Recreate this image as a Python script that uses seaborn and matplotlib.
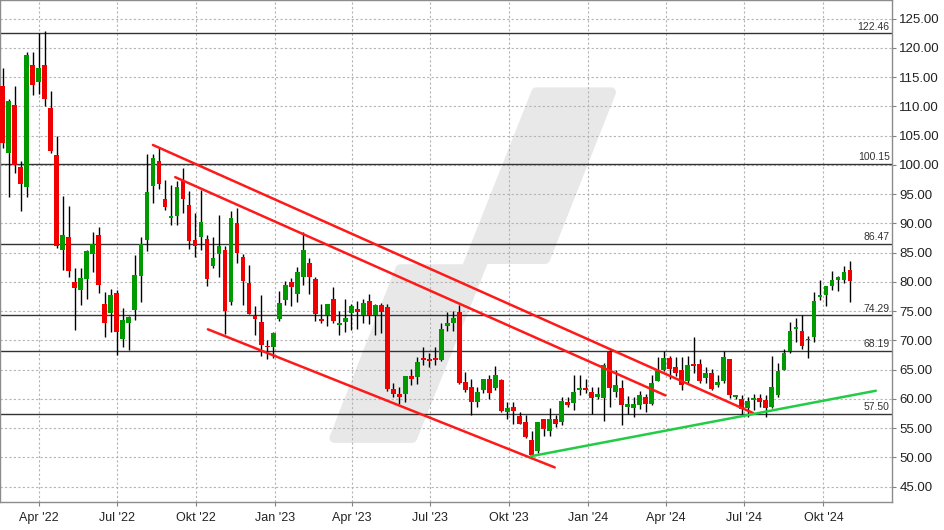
import numpy as np
import pandas as pd
import matplotlib
matplotlib.use('Agg')
import matplotlib.pyplot as plt
import matplotlib.dates as mdates
from matplotlib.patches import Polygon
import seaborn as sns

# Wochenkerzen (Freitag), Feb 2022 - Nov 2024
first_week = '2022-02-18'
opens = [113.5, 102.1, 110.3, 99.6, 96.2, 117.1, 114.1, 117.1, 109.8, 101.7,
         85.5, 87.6, 80.0, 78.6, 80.5, 84.8, 88.0, 76.2, 74.7, 78.1,
         70.3, 72.9, 75.2, 81.0, 87.2, 96.4, 100.7, 94.1, 90.9, 91.3,
         97.3, 93.1, 87.1, 87.7, 87.3, 82.7, 84.8, 85.5, 76.5, 90.1,
         84.3, 79.8, 74.1, 73.2, 69.1, 68.8, 73.7, 76.9, 80.0, 77.9,
         80.9, 83.3, 80.5, 73.7, 74.3, 77.0, 72.7, 73.1, 74.7, 75.4,
         74.4, 76.8, 74.4, 76.0, 75.7, 61.7, 60.9, 60.9, 64.0, 63.7,
         67.0, 66.8, 67.0, 66.7, 72.5, 73.0, 74.8, 62.9, 62.1, 59.4,
         61.6, 63.4, 61.8, 63.3, 57.7, 58.7, 57.1, 56.1, 52.9, 51.1,
         56.6, 54.5, 56.5, 56.0, 59.4, 59.3, 61.5, 61.9, 61.2, 60.4,
         60.1, 68.1, 61.2, 61.9, 58.6, 58.5, 58.9, 60.4, 59.1, 63.1,
         64.9, 67.0, 65.4, 65.0, 63.0, 66.0, 66.0, 63.5, 64.4, 62.3,
         63.0, 66.9, 60.3, 60.0, 58.4, 59.8, 60.2, 59.9, 58.6, 60.7,
         65.0, 68.2, 72.0, 71.6, 70.3, 70.5, 77.4, 77.8, 79.3, 80.4,
         80.4, 82.0]
highs = [116.5, 111.2, 113.5, 100.7, 119.3, 119.3, 122.6, 122.9, 112.6, 104.9,
         94.6, 92.9, 82.3, 82.3, 85.4, 88.6, 89.3, 78.2, 78.8, 78.6,
         75.5, 74.2, 84.6, 87.6, 101.9, 101.9, 103.0, 97.5, 96.5, 97.3,
         99.4, 95.6, 91.8, 95.7, 88.0, 87.7, 91.4, 86.2, 92.1, 92.7,
         84.8, 82.9, 75.8, 77.8, 70.1, 71.4, 78.5, 80.2, 80.6, 82.6,
         88.5, 84.0, 80.8, 76.3, 76.3, 79.2, 75.1, 77.1, 76.3, 76.8,
         77.1, 78.0, 76.3, 76.4, 76.3, 62.8, 62.0, 64.0, 65.2, 67.2,
         68.9, 67.8, 68.8, 72.9, 74.9, 75.1, 76.0, 64.6, 63.4, 62.0,
         63.4, 64.1, 65.6, 63.4, 59.5, 59.5, 57.7, 57.3, 54.5, 56.1,
         56.6, 58.5, 57.2, 60.3, 60.3, 64.1, 64.1, 63.4, 62.1, 62.0,
         66.2, 68.3, 64.9, 63.3, 60.5, 60.3, 61.4, 60.8, 64.1, 67.2,
         68.2, 67.3, 67.1, 67.1, 67.4, 70.6, 66.8, 65.4, 65.1, 64.1,
         68.2, 66.9, 60.7, 60.6, 60.4, 60.9, 60.9, 60.6, 67.3, 66.2,
         68.5, 73.1, 73.8, 74.3, 70.7, 78.2, 80.4, 79.3, 81.9, 81.0,
         82.7, 83.6]
lows = [102.8, 94.5, 98.6, 92.1, 94.5, 112.0, 112.1, 110.0, 102.0, 85.8,
        82.1, 80.9, 71.8, 76.1, 77.1, 81.7, 78.1, 70.5, 71.4, 67.5,
        68.8, 68.4, 73.5, 76.6, 85.3, 93.5, 95.8, 92.3, 89.7, 89.7,
        91.8, 85.7, 84.2, 85.5, 79.3, 82.3, 80.9, 71.1, 76.0, 83.3,
        76.0, 74.6, 70.9, 67.3, 66.9, 67.0, 73.4, 76.0, 75.8, 76.5,
        79.4, 77.9, 73.4, 72.9, 72.4, 73.0, 70.9, 71.4, 71.7, 72.0,
        73.0, 72.8, 70.9, 71.2, 61.3, 60.3, 59.1, 59.4, 62.3, 62.5,
        65.8, 65.4, 65.8, 66.5, 71.6, 71.6, 62.5, 61.2, 57.3, 58.6,
        61.0, 60.0, 61.6, 57.8, 56.5, 55.8, 55.8, 53.4, 50.1, 50.7,
        53.6, 53.6, 55.2, 55.5, 58.6, 58.1, 60.7, 61.0, 57.4, 60.0,
        56.3, 58.7, 60.4, 55.6, 57.4, 56.9, 58.2, 57.8, 59.0, 63.0,
        64.8, 63.4, 64.0, 61.6, 62.8, 64.5, 62.8, 62.8, 61.5, 62.1,
        62.8, 60.1, 60.0, 57.2, 56.9, 58.1, 58.7, 56.9, 58.5, 60.4,
        64.9, 67.9, 69.8, 68.5, 67.0, 69.8, 76.9, 75.8, 78.6, 78.5,
        79.8, 76.6]
closes = [103.7, 110.9, 99.9, 96.7, 118.8, 113.7, 116.6, 111.2, 102.3, 86.1,
          88.0, 81.9, 79.0, 80.6, 85.2, 86.5, 79.5, 73.0, 77.7, 71.5,
          73.5, 74.0, 81.2, 86.5, 95.3, 101.1, 96.7, 92.8, 91.1, 96.3,
          94.1, 87.0, 86.1, 90.2, 80.5, 84.1, 86.2, 75.1, 91.0, 84.9,
          80.1, 74.6, 73.6, 69.3, 68.8, 71.2, 76.4, 79.5, 79.1, 81.7,
          85.5, 80.8, 74.6, 73.4, 76.3, 73.4, 73.0, 73.9, 75.9, 74.9,
          76.4, 74.4, 76.0, 74.9, 61.7, 60.9, 60.3, 64.0, 63.4, 66.3,
          66.7, 66.5, 66.7, 71.9, 73.0, 73.8, 62.8, 61.6, 59.4, 61.2,
          63.4, 61.0, 64.1, 57.9, 58.5, 58.0, 55.8, 53.5, 50.4, 56.1,
          54.8, 56.5, 55.8, 59.7, 58.9, 61.2, 61.7, 61.5, 60.1, 60.9,
          65.8, 61.8, 62.4, 58.9, 59.2, 59.1, 60.6, 59.1, 62.8, 64.8,
          67.0, 65.2, 64.5, 62.3, 65.8, 65.7, 63.0, 64.4, 61.7, 62.9,
          67.2, 60.6, 60.6, 58.2, 59.7, 60.2, 59.4, 58.5, 62.0, 64.7,
          67.8, 71.6, 72.3, 69.0, 70.0, 76.7, 77.8, 79.3, 80.4, 80.8,
          81.7, 80.2]

# Horizontale Marken
levels = [122.46, 100.15, 86.47, 74.29, 68.19, 57.50]

# Trendkanal (rot) und Aufwaertstrend (gruen)
upper_dates = ['2022-08-12', '2024-07-11']
upper_prices = [103.4, 57.6]
middle_dates = ['2022-09-07', '2024-03-31']
middle_prices = [97.9, 60.6]
lower_dates = ['2022-10-15', '2023-11-23']
lower_prices = [71.9, 48.3]
support_dates = ['2023-10-26', '2024-12-01']
support_prices = [50.2, 61.4]

tick_dates = ['2022-04-01', '2022-07-01', '2022-10-01', '2023-01-01', '2023-04-01',
              '2023-07-01', '2023-10-01', '2024-01-01', '2024-04-01', '2024-07-01',
              '2024-10-01']
tick_labels = ["Apr '22", "Jul '22", "Okt '22", "Jan '23", "Apr '23", "Jul '23",
               "Okt '23", "Jan '24", "Apr '24", "Jul '24", "Okt '24"]

sns.set_style('white')
plt.rcParams['font.family'] = ['Liberation Sans', 'DejaVu Sans']

df = pd.DataFrame({'open': opens, 'high': highs, 'low': lows, 'close': closes})
df['date'] = pd.date_range(first_week, periods=len(df), freq='7D')
df['up'] = df['close'] >= df['open']
df['bottom'] = df[['open', 'close']].min(axis=1)
df['height'] = (df['close'] - df['open']).abs().clip(lower=0.3)

fig = plt.figure(figsize=(9.45, 5.3), dpi=100)
ax = fig.add_axes([0.0005, 0.0523, 0.9437, 0.9472])

# Wasserzeichen
mark = np.array([(334, 438), (400, 269), (466, 269), (536, 92), (611, 92),
                 (545, 259), (484, 259), (412, 438)], dtype=float)
mark[:, 0] = mark[:, 0] / 892.3
mark[:, 1] = 1 - mark[:, 1] / 502.3
ax.add_patch(Polygon(mark, closed=True, transform=ax.transAxes, facecolor='#e8e8e8',
                     edgecolor='#e8e8e8', linewidth=7, joinstyle='round', zorder=0.2))

for lv in levels:
    ax.axhline(lv, color='#333333', linewidth=1.0, zorder=1)
    ax.text(0.997, lv + 0.3, f'{lv:.2f}', transform=ax.get_yaxis_transform(),
            ha='right', va='bottom', fontsize=7.5, color='#333333', zorder=2)

ax.vlines(df['date'], df['low'], df['high'], color='black', linewidth=1.0, zorder=2)
colors = np.where(df['up'], '#009900', '#f00000')
ax.bar(df['date'], df['height'], bottom=df['bottom'], width=5.6, color=colors,
       linewidth=0, zorder=3)

for d, p, c in [(upper_dates, upper_prices, '#ff1a1a'),
                (middle_dates, middle_prices, '#ff1a1a'),
                (lower_dates, lower_prices, '#ff1a1a'),
                (support_dates, support_prices, '#22cc44')]:
    sns.lineplot(x=pd.to_datetime(d), y=p, color=c, linewidth=1.8, ax=ax, zorder=4)

ax.set_xlim(pd.Timestamp('2022-02-15 10:00'), pd.Timestamp('2024-12-20 05:00'))
ax.set_ylim(42.34, 128.13)

ax.set_xticks(pd.to_datetime(tick_dates))
ax.set_xticklabels(tick_labels)
ax.set_yticks(np.arange(45, 126, 5))
ax.yaxis.set_major_formatter(matplotlib.ticker.FormatStrFormatter('%.2f'))
ax.yaxis.tick_right()
ax.set_xlabel('')
ax.set_ylabel('')

ax.set_axisbelow(True)
ax.grid(True, linestyle=(0, (2, 2)), color='#b4b4b4', linewidth=0.8)
ax.tick_params(axis='y', right=True, length=3, width=0.8, color='#808080', pad=2,
               labelsize=9.5, labelcolor='#222222')
ax.tick_params(axis='x', bottom=True, length=3, width=0.8, color='#808080', pad=4,
               labelsize=9, labelcolor='#222222')
for s in ax.spines.values():
    s.set_color('#8c8c8c')
    s.set_linewidth(1.0)

fig.savefig('out.png', dpi=100)
